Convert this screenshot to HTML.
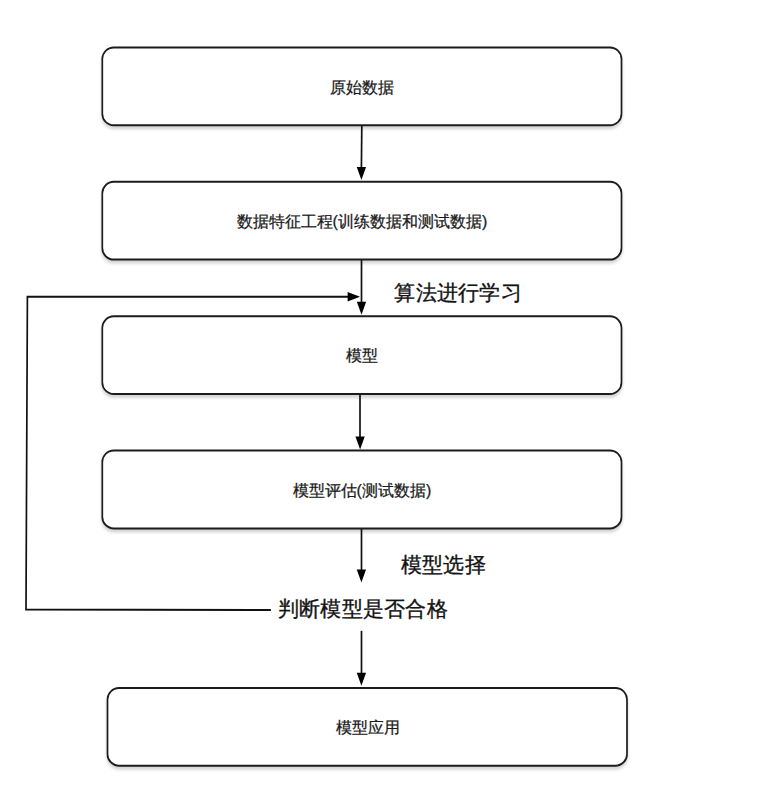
<!DOCTYPE html>
<html><head><meta charset="utf-8">
<style>
html,body{margin:0;padding:0;background:#fff;width:771px;height:797px;overflow:hidden;position:relative;font-family:"Liberation Sans",sans-serif;}
.t{position:absolute;white-space:nowrap;color:#111;line-height:1;-webkit-text-stroke:0.3px #111;}
.bx{position:absolute;display:flex;align-items:center;justify-content:center;white-space:nowrap;color:#111;line-height:1;font-size:16px;-webkit-text-stroke:0.25px #1a1a1a;color:#1a1a1a;}
.lb{font-size:21px;letter-spacing:0.25px;-webkit-text-stroke:0.35px #1a1a1a;}
svg{position:absolute;left:0;top:0;}
</style></head><body>
<svg width="771" height="797" viewBox="0 0 771 797">
<defs>
<filter id="sh" x="-5%" y="-20%" width="110%" height="150%">
<feGaussianBlur in="SourceAlpha" stdDeviation="1.7 1.478"/>
<feOffset dx="0" dy="2.696"/>
<feComponentTransfer><feFuncA type="linear" slope="0.17"/></feComponentTransfer>
<feMerge><feMergeNode/><feMergeNode in="SourceGraphic"/></feMerge>
</filter>
</defs>
<g transform="scale(1,1.15)">
<g fill="#fff" stroke="#1c1c1c" stroke-width="1.7" filter="url(#sh)">
<rect x="102.3" y="41.304" width="519.2" height="67.609" rx="11.5" ry="10.0"/>
<rect x="102.3" y="158.087" width="519.2" height="67.652" rx="11.5" ry="10.0"/>
<rect x="102.3" y="275.087" width="519.2" height="67.522" rx="11.5" ry="10.0"/>
<rect x="102.3" y="391.739" width="519.2" height="67.739" rx="11.5" ry="10.0"/>
<rect x="107.5" y="598.261" width="519.5" height="67.565" rx="11.5" ry="10.0"/>
</g>
<g stroke="#111" stroke-width="1.7" fill="none">
<line x1="361.8" y1="109.565" x2="361.4" y2="146.087"/>
<line x1="361.5" y1="226.087" x2="361.5" y2="263.478"/>
<line x1="360.0" y1="343.043" x2="360.0" y2="380.435"/>
<line x1="361.5" y1="460.0" x2="361.5" y2="496.087"/>
<line x1="361.5" y1="548.522" x2="361.5" y2="585.652"/>
<polyline points="348,258.087 27.4,258.087 26.0,529.913 270.9,530.435"/>
</g>
<g fill="#000">
<polygon points="356.75,145.217 366.05,145.217 361.40,156.522"/>
<polygon points="356.85,262.435 366.15,262.435 361.50,273.739"/>
<polygon points="355.45,379.652 364.75,379.652 360.10,390.957"/>
<polygon points="356.75,495.304 366.05,495.304 361.40,506.609"/>
<polygon points="356.75,584.957 366.05,584.957 361.40,596.261"/>
<polygon points="347.6,253.826 347.6,262.174 360.0,258.0"/>
</g>
</g>
</svg>
<div class="bx" style="left:102.3px;top:48.7px;width:519.2px;height:77.75px;">原始数据</div>
<div class="bx" style="left:102.3px;top:183.0px;width:519.2px;height:77.8px;">数据特征工程(训练数据和测试数据)</div>
<div class="bx" style="left:102.3px;top:317.55px;width:519.2px;height:77.65px;">模型</div>
<div class="bx" style="left:102.3px;top:451.7px;width:519.2px;height:77.9px;">模型评估(测试数据)</div>
<div class="bx" style="left:108.5px;top:689.2px;width:519.5px;height:77.7px;">模型应用</div>
<div class="t lb" style="left:394.3px;top:281.8px;">算法进行学习</div>
<div class="t lb" style="left:400.8px;top:553.6px;">模型选择</div>
<div class="t lb" style="left:277.9px;top:598.3px;">判断模型是否合格</div>
</body></html>
